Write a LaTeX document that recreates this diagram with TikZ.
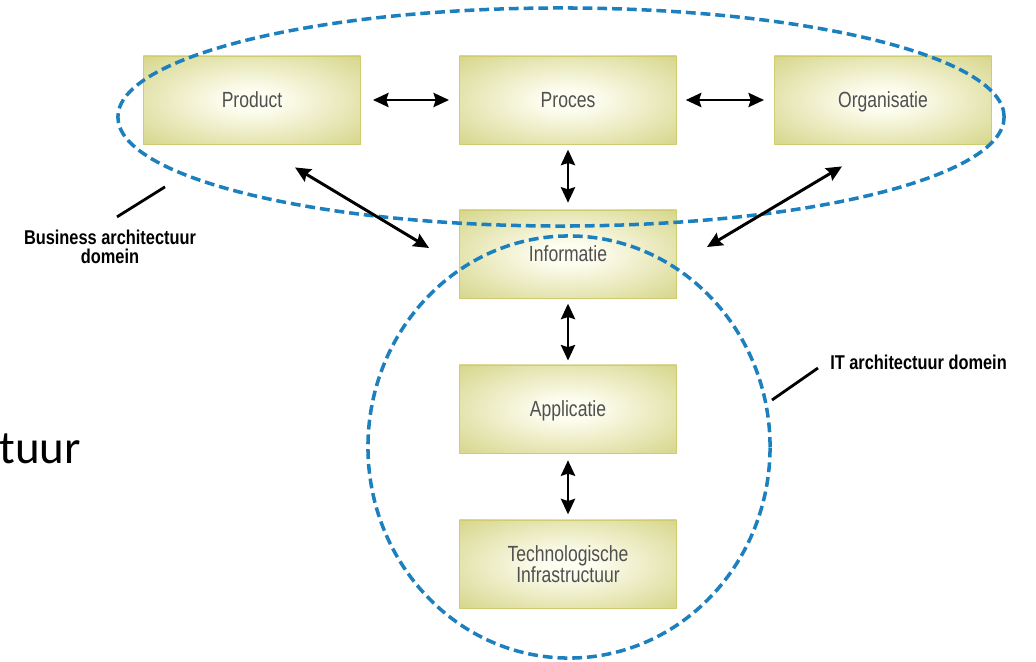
\documentclass[tikz,border=0pt]{standalone}
\usepackage{fontspec}
\usepackage{tikz}
\usetikzlibrary{
    arrows.meta,
    positioning,
    shapes.geometric,
    calc
}
\newfontfamily\boxfont[FakeStretch=0.8]{Liberation Sans}
\newfontfamily\tagfont[FakeStretch=0.82]{Liberation Sans}
\newfontfamily\slidefont{Carlito}
\usepackage{xcolor}
\definecolor{boxin}{RGB}{253,253,240}
\definecolor{boxout}{RGB}{198,197,96}
\definecolor{boxline}{RGB}{208,204,112}
\definecolor{domainblue}{RGB}{28,128,190}
\definecolor{labelgray}{RGB}{80,80,80}
\pgfdeclareradialshading{boxglow}{\pgfpoint{0bp}{0bp}}{color(0bp)=(boxin); color(6bp)=(boxin); color(48bp)=(boxout); color(50bp)=(boxout)}

\begin{document}
\begin{tikzpicture}[
    x=0.025cm, y=-0.025cm,
    block/.style={rectangle, draw=boxline, line width=0.6pt, shading=boxglow, minimum width=5.425cm, minimum height=2.2cm, inner sep=0pt, align=center, text=labelgray, text depth=0pt, font=\boxfont\fontsize{15.6}{15}\selectfont},
    domainring/.style={draw=domainblue, line width=2.5pt, dash pattern=on 7pt off 3.5pt, inner sep=0pt},
    biarrow/.style={{Stealth[length=11pt,width=10pt,inset=1.5pt]}-{Stealth[length=11pt,width=10pt,inset=1.5pt]}, line width=2.1pt},
    pointer/.style={line width=2pt},
    domlabel/.style={font=\tagfont\bfseries\fontsize{14.2}{13.5}\selectfont, align=center, inner sep=0pt}
]
\useasboundingbox (0,0) rectangle (1036,662);

% Business layer
\node[block] (product) at (252,100) {Product};
\node[block] (proces) at (568,100) {Proces};
\node[block] (organisatie) at (883,100) {Organisatie};

% IT layer
\node[block] (informatie) at (568,254) {Informatie};
\node[block] (applicatie) at (568,409) {Applicatie};
\node[block] (techinfra) at (568,564) {Technologische\\Infrastructuur};

% Domains
\node[domainring, ellipse, minimum width=22.15cm, minimum height=5.45cm] (bizdomain) at (561,117) {};
\node[domainring, ellipse, minimum width=10.05cm, minimum height=10.55cm] (itdomain) at (569,447) {};

% Relations
\draw[biarrow, shorten <=0.3cm, shorten >=0.25cm] (product) -- (proces);
\draw[biarrow, shorten <=0.22cm, shorten >=0.25cm] (proces) -- (organisatie);
\draw[biarrow, shorten <=0.13cm, shorten >=0.17cm] (proces) -- (informatie);
\draw[biarrow, shorten <=0.13cm, shorten >=0.1cm] (informatie) -- (applicatie);
\draw[biarrow, shorten <=0.17cm, shorten >=0.13cm] (applicatie) -- (techinfra);
\draw[biarrow] ($(product.south)+(43,23)$) -- ($(informatie.west)+(-30,-6)$);
\draw[biarrow] ($(organisatie.south)+(-41,22)$) -- ($(informatie.east)+(30,-7)$);

% Domain labels
\node[domlabel] (bizlabel) at (110,247) {Business architectuur\\domein};
\node[domlabel, anchor=west] (itlabel) at (830,362) {IT architectuur domein};
\draw[pointer] ($(bizlabel.north)+(7,-13)$) -- ($(bizlabel.north)+(55,-43)$);
\draw[pointer] ($(itlabel.west)+(-12,6)$) -- ($(itlabel.west)+(-58,38)$);

% Slide fragment
\node[font=\slidefont\fontsize{33.4}{40}\selectfont, anchor=base west, inner sep=0pt] (slidefrag) at (-1,463) {tuur};

\end{tikzpicture}
\end{document}
